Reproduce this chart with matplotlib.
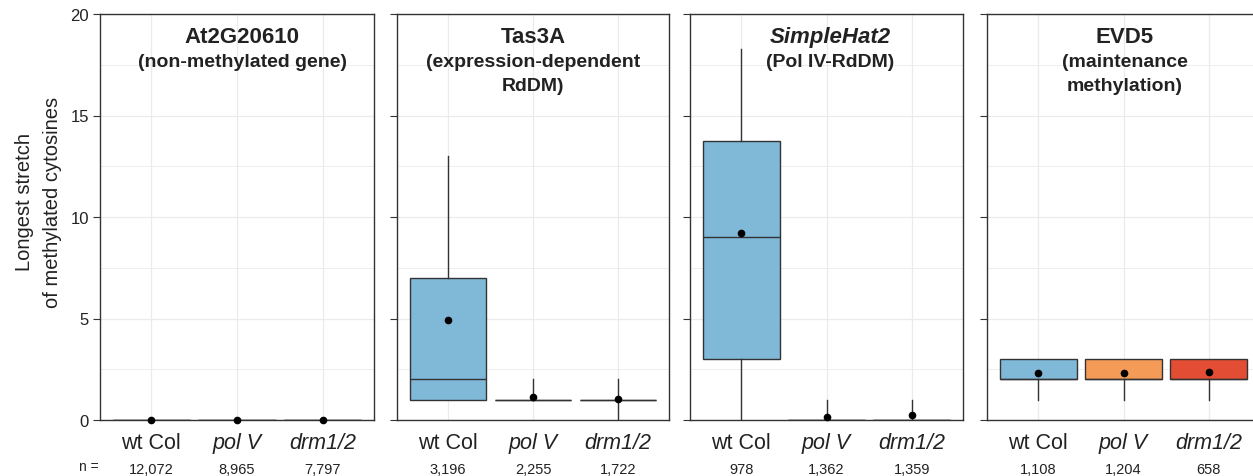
import matplotlib
matplotlib.use("Agg")
import matplotlib.pyplot as plt
from matplotlib.ticker import MultipleLocator

plt.rcParams['font.family'] = ['Liberation Sans', 'DejaVu Sans']

# ---- data -------------------------------------------------------------
genotypes = ["wt Col", "pol V", "drm1/2"]
genotype_italic = [False, True, True]
genotype_colors = ["#80B8D8", "#F59B58", "#E34D33"]

panel_titles = ["At2G20610", "Tas3A", "SimpleHat2", "EVD5"]
panel_title_italic = [False, False, True, False]
panel_subtitles = [
    ["(non-methylated gene)"],
    ["(expression-dependent", "RdDM)"],
    ["(Pol IV-RdDM)"],
    ["(maintenance", "methylation)"],
]

# per panel, per genotype (wt Col, pol V, drm1/2)
q1 = [[0, 0, 0], [1, 1, 1], [3, 0, 0], [2, 2, 2]]
median = [[0, 0, 0], [2, 1, 1], [9, 0, 0], [2, 2, 2]]
q3 = [[0, 0, 0], [7, 1, 1], [13.75, 0, 0], [3, 3, 3]]
whisker_low = [[0, 0, 0], [1, 1, 0], [0, 0, 0], [1, 1, 1]]
whisker_high = [[0, 0, 0], [13, 2, 2], [18.3, 1, 1], [3, 3, 3]]
means = [[0, 0, 0], [4.95, 1.11, 1.01], [9.2, 0.16, 0.23], [2.3, 2.3, 2.37]]
n_counts = [
    ["12,072", "8,965", "7,797"],
    ["3,196", "2,255", "1,722"],
    ["978", "1,362", "1,359"],
    ["1,108", "1,204", "658"],
]

y_label = "Longest stretch\nof methylated cytosines"

# ---- layout -----------------------------------------------------------
W, H = 1253, 477
fig = plt.figure(figsize=(W / 100, H / 100), dpi=100)

panel_left_px = [100, 397, 690, 987]
panel_width_px = [274, 272, 273, 273]
title_shift_px = [5, 0, 4, 1]
top_px, bottom_px = 15, 421

edge = "#333333"
text_col = "#222222"
grid_col = "#EBEBEB"

for p in range(4):
    ax = fig.add_axes([panel_left_px[p] / W, 1 - bottom_px / H,
                       panel_width_px[p] / W, (bottom_px - top_px) / H])

    stats = []
    for g in range(3):
        stats.append(dict(
            med=median[p][g], q1=q1[p][g], q3=q3[p][g],
            whislo=whisker_low[p][g], whishi=whisker_high[p][g],
            mean=means[p][g], fliers=[], label=genotypes[g]))
    bp = ax.bxp(stats, positions=[1, 2, 3], widths=0.9, patch_artist=True,
                showcaps=False, showfliers=False, showmeans=True,
                manage_ticks=False,
                boxprops=dict(edgecolor=edge, linewidth=1.0),
                medianprops=dict(color=edge, linewidth=1.0),
                whiskerprops=dict(color=edge, linewidth=1.0),
                meanprops=dict(marker="o", markerfacecolor="black",
                               markeredgecolor="black", markersize=4.5))
    for g, box in enumerate(bp["boxes"]):
        box.set_facecolor(genotype_colors[g])
        box.set_zorder(2)
    for m in bp["means"]:
        m.set_clip_on(False)
        m.set_zorder(5)

    ax.set_xlim(0.4, 3.6)
    ax.set_ylim(0, 20)
    ax.yaxis.set_major_locator(MultipleLocator(5))
    ax.yaxis.set_minor_locator(MultipleLocator(2.5))
    ax.set_xticks([1, 2, 3])
    ax.grid(True, which="major", color=grid_col, lw=0.9, zorder=0)
    ax.grid(True, which="minor", axis="y", color=grid_col, lw=0.6, zorder=0)
    ax.set_axisbelow(True)
    for s in ax.spines.values():
        s.set_color(edge)
        s.set_linewidth(1.0)

    # tick styling
    ax.tick_params(axis="x", length=0, pad=9, labelsize=15.5, colors=text_col)
    ax.tick_params(axis="y", which="major", length=5, width=0.8, color=edge,
                   labelsize=12, labelcolor=text_col, pad=3)
    ax.tick_params(axis="y", which="minor", length=0)
    ax.set_xticklabels(genotypes)
    for lab, it in zip(ax.get_xticklabels(), genotype_italic):
        lab.set_fontstyle("italic" if it else "normal")
    if p > 0:
        ax.set_yticklabels([])

    # panel title
    tx = 0.5 + title_shift_px[p] / panel_width_px[p]
    ax.text(tx, 0.931, panel_titles[p], transform=ax.transAxes,
            ha="center", va="baseline", fontsize=16, fontweight="bold",
            fontstyle="italic" if panel_title_italic[p] else "normal",
            color=text_col)
    for i, line in enumerate(panel_subtitles[p]):
        ax.text(tx, 0.873 - i * 0.0595, line, transform=ax.transAxes,
                ha="center", va="baseline", fontsize=14, fontweight="bold",
                color=text_col)

    # sample sizes under each genotype
    for g in range(3):
        ax.text(g + 1, -0.121, n_counts[p][g],
                transform=ax.get_xaxis_transform(),
                ha="center", va="center", fontsize=10.5, color=text_col)
    if p == 0:
        ax.text(0.38, -0.113, "n =", transform=ax.get_xaxis_transform(),
                ha="right", va="center", fontsize=10, color=text_col)

fig.text(39 / W, 1 - 202 / H, y_label, rotation=90, ha="center", va="center",
         fontsize=14.5, color=text_col, multialignment="center", linespacing=1.6)

fig.savefig("out.png", dpi=100)
